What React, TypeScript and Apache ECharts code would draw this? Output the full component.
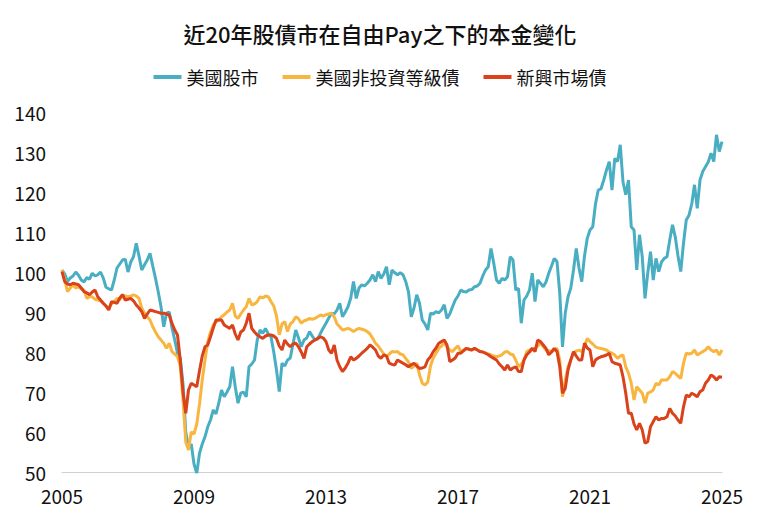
import React, { useEffect, useRef } from "react";
import * as echarts from "echarts";

const seriesNames = ["美國股市", "美國非投資等級債", "新興市場債"];
const startYear = 2005;
const monthCount = 241;
const months = Array.from({ length: monthCount }, (_, i) => `${startYear + Math.floor(i / 12)}-${String((i % 12) + 1).padStart(2, "0")}`);
const yearTicks = ["2005", "2009", "2013", "2017", "2021", "2025"];

const usStocks = [
  100.5, 99.5, 97.6, 98.5, 99.0, 100.0, 99.2, 98.0, 97.5, 98.6, 98.2, 99.7,
  99.0, 99.3, 100.0, 98.5, 96.2, 95.8, 95.5, 98.0, 101.0, 102.0, 103.0, 103.2,
  100.0, 102.5, 103.8, 107.2, 104.0, 100.5, 101.8, 103.0, 104.7, 101.5, 98.4, 95.0,
  91.3, 86.3, 89.7, 90.0, 86.0, 83.0, 79.7, 78.5, 72.0, 60.0, 56.0, 57.0,
  52.0, 49.7, 54.7, 57.0, 58.8, 61.3, 63.0, 65.5, 64.5, 67.2, 70.5, 68.8,
  70.0, 71.3, 76.3, 71.3, 67.2, 69.7, 70.0, 68.8, 76.3, 77.0, 78.0, 83.0,
  85.5, 84.7, 85.9, 84.5, 83.8, 80.0, 75.5, 70.1, 77.2, 76.5, 78.0, 78.5,
  82.0, 85.5, 83.5, 81.3, 83.0, 83.5, 85.1, 84.0, 83.0, 83.3, 84.7, 86.0,
  87.2, 88.5, 89.7, 89.5, 90.5, 92.2, 88.8, 90.0, 91.3, 93.5, 97.6, 93.4,
  96.0, 96.8, 96.5, 97.2, 98.0, 99.3, 97.6, 100.1, 98.4, 99.5, 101.3, 96.8,
  100.5, 99.8, 99.3, 99.8, 99.3, 97.6, 95.0, 88.8, 91.0, 94.3, 92.2, 88.0,
  87.0, 85.5, 89.7, 89.5, 90.1, 89.8, 90.5, 91.8, 88.4, 89.5, 91.3, 93.0,
  94.0, 95.5, 95.1, 95.0, 95.5, 95.6, 96.3, 96.5, 97.2, 99.0, 100.5, 101.3,
  105.9, 102.2, 98.0, 97.2, 98.4, 98.0, 98.8, 103.8, 103.0, 95.5, 95.9, 87.2,
  93.0, 94.0, 95.5, 99.7, 92.6, 98.0, 97.2, 96.3, 97.5, 99.7, 101.5, 103.4,
  102.6, 94.7, 81.3, 89.7, 93.8, 95.9, 100.5, 105.9, 101.0, 97.6, 104.0, 108.4,
  110.5, 111.3, 117.0, 120.5, 120.8, 123.0, 125.5, 127.6, 120.5, 128.4, 127.6, 131.8,
  122.5, 119.3, 123.0, 111.3, 110.5, 100.5, 109.3, 103.8, 93.4, 99.7, 105.1, 98.0,
  103.4, 100.1, 102.5, 103.4, 103.8, 108.0, 111.8, 108.8, 104.0, 100.1, 107.2, 113.0,
  114.2, 117.0, 121.8, 115.9, 123.0, 125.1, 126.3, 127.5, 129.7, 127.6, 134.3, 130.1,
  132.6,
];

const usHighYield = [
  100.5, 98.0, 95.1, 96.0, 96.8, 96.0, 96.3, 95.8, 95.5, 93.4, 93.8, 93.8,
  93.2, 93.0, 92.8, 92.2, 91.5, 90.9, 92.0, 92.6, 93.4, 93.0, 94.3, 94.0,
  93.8, 94.0, 94.3, 94.0, 93.4, 91.0, 89.7, 88.8, 88.0, 86.3, 85.0, 83.8,
  83.0, 82.2, 80.9, 82.2, 80.1, 79.5, 78.8, 76.5, 68.0, 57.5, 55.5, 60.0,
  59.5, 62.0, 67.0, 73.0, 78.0, 82.5, 85.0, 86.75, 87.5, 88.0, 88.8, 89.3,
  90.0, 90.5, 92.2, 89.0, 88.4, 89.5, 90.5, 91.3, 93.4, 91.8, 92.0, 92.6,
  93.8, 93.5, 94.0, 93.8, 92.6, 91.5, 89.0, 84.3, 87.0, 87.6, 85.1, 87.0,
  87.6, 88.8, 88.3, 87.2, 87.8, 88.0, 88.4, 88.2, 88.4, 88.8, 89.25, 89.0,
  89.3, 89.5, 89.7, 88.8, 87.0, 86.3, 85.5, 85.7, 85.9, 85.6, 85.1, 85.6,
  85.9, 85.7, 85.5, 85.1, 84.5, 83.4, 82.2, 81.5, 80.5, 79.5, 78.8, 79.5,
  80.1, 80.0, 80.1, 79.5, 79.3, 78.4, 77.5, 75.9, 76.5, 77.2, 74.3, 72.2,
  71.75, 72.5, 76.5, 78.5, 79.7, 80.9, 81.5, 82.2, 81.3, 80.5, 80.1, 80.9,
  81.5, 80.1, 80.5, 80.9, 80.7, 80.5, 80.9, 80.6, 80.1, 80.0, 79.7, 79.5,
  79.3, 79.0, 78.8, 79.0, 79.3, 80.0, 80.1, 79.5, 79.3, 78.0, 76.3, 77.0,
  78.0, 80.1, 80.5, 80.9, 80.9, 81.5, 82.2, 81.3, 80.5, 80.3, 80.1, 80.5,
  80.9, 78.0, 68.8, 73.0, 76.3, 78.0, 79.7, 80.2, 80.5, 80.1, 81.5, 83.4,
  82.6, 82.0, 81.3, 81.0, 80.9, 80.7, 80.5, 80.0, 79.7, 79.25, 78.4, 79.0,
  79.25, 76.3, 74.7, 72.2, 68.0, 71.3, 70.5, 69.7, 67.2, 69.7, 70.0, 70.5,
  72.2, 71.75, 73.0, 73.0, 73.0, 73.8, 75.1, 74.7, 74.0, 73.4, 77.2, 79.7,
  79.5, 79.7, 80.5, 79.25, 79.7, 80.1, 80.5, 81.3, 80.5, 80.1, 80.5, 79.25,
  80.5,
];

const emBonds = [
  100.1, 97.6, 97.0, 96.8, 97.2, 97.0, 96.8, 96.0, 95.1, 94.8, 94.3, 95.0,
  95.5, 93.8, 93.0, 92.2, 91.5, 90.5, 92.6, 92.4, 92.2, 93.5, 94.3, 93.0,
  93.2, 93.4, 92.8, 91.75, 91.0, 90.1, 88.4, 89.5, 90.5, 90.3, 90.1, 89.9,
  89.7, 89.7, 89.5, 89.25, 87.2, 85.5, 84.25, 78.0, 70.0, 64.7, 70.5, 72.2,
  71.75, 71.3, 75.3, 79.0, 81.3, 81.75, 83.8, 86.0, 88.0, 88.0, 88.0, 86.75,
  86.3, 85.9, 86.75, 84.5, 83.0, 85.0, 85.5, 87.2, 89.7, 85.9, 85.0, 84.25,
  83.8, 83.4, 84.0, 84.25, 84.25, 84.0, 83.4, 81.5, 80.5, 83.0, 82.0, 81.3,
  82.0, 82.2, 81.3, 80.0, 78.4, 81.3, 82.0, 82.6, 83.0, 83.4, 83.8, 83.5,
  82.6, 80.5, 79.7, 81.75, 78.0, 76.3, 75.1, 76.0, 77.2, 78.8, 78.0, 78.4,
  79.0, 79.7, 80.3, 80.9, 81.75, 81.2, 80.5, 79.0, 78.4, 79.3, 79.0, 77.2,
  76.9, 76.75, 78.0, 77.6, 77.2, 76.8, 76.3, 76.8, 77.2, 76.5, 75.9, 76.0,
  76.3, 78.0, 78.8, 80.1, 81.0, 82.2, 82.6, 83.0, 81.75, 77.6, 78.0, 78.5,
  79.7, 79.7, 80.3, 80.9, 80.7, 80.5, 80.9, 80.5, 80.1, 80.0, 79.7, 79.3,
  78.8, 78.4, 78.0, 77.0, 76.3, 75.5, 76.75, 75.5, 76.0, 76.3, 75.1, 75.1,
  78.0, 79.3, 80.0, 80.9, 80.1, 83.0, 82.6, 81.75, 80.9, 79.3, 80.0, 80.9,
  80.1, 76.3, 69.7, 70.9, 75.5, 78.0, 80.1, 79.0, 78.0, 78.0, 82.2, 81.0,
  80.5, 76.3, 78.0, 78.5, 78.8, 79.0, 79.25, 79.7, 77.6, 77.2, 77.0, 76.75,
  73.8, 69.7, 64.7, 64.7, 62.0, 60.5, 62.2, 60.5, 57.2, 57.6, 61.3, 62.6,
  63.8, 63.0, 63.4, 63.4, 63.8, 65.9, 64.7, 64.0, 63.0, 62.2, 66.3, 69.25,
  68.8, 69.7, 69.3, 68.8, 70.1, 70.5, 72.2, 73.0, 74.25, 73.8, 73.0, 73.8,
  73.7,
];

const colors = ["#4aaec3", "#f8b641", "#d9421b"];
const FONT = "'Noto Sans CJK TC', 'Noto Sans', sans-serif";

export default function App() {
  const ref = useRef<HTMLDivElement>(null);
  useEffect(() => {
    if (!ref.current) return;
    document.body.style.margin = "0";
    const chart = echarts.init(ref.current, null, { renderer: "svg" });
    const dataSets = [usStocks, usHighYield, emBonds];
    chart.setOption({
      animation: false,
      backgroundColor: "#ffffff",
      textStyle: { fontFamily: FONT },
      title: {
        text: "近20年股債市在自由Pay之下的本金變化",
        left: "center",
        top: 17,
        textStyle: { fontFamily: FONT, fontSize: 22, fontWeight: 500, color: "#111" },
      },
      legend: {
        top: 63,
        left: "center",
        icon: "rect",
        itemWidth: 28,
        itemHeight: 4,
        itemGap: 24,
        textStyle: { fontFamily: FONT, fontSize: 18, color: "#111" },
        data: seriesNames,
      },
      grid: { left: 62, right: 38, top: 112, bottom: 48, containLabel: false },
      xAxis: {
        type: "category",
        data: months,
        boundaryGap: false,
        axisLine: { show: true, lineStyle: { color: "#d0d0d0", width: 1 } },
        axisTick: { show: false },
        axisLabel: {
          interval: (i: number) => i % 48 === 0,
          formatter: (v: string) => {
            const y = v.slice(0, 4);
            return yearTicks.includes(y) ? y : "";
          },
          fontFamily: FONT,
          fontSize: 19,
          color: "#111",
          margin: 14,
        },
        splitLine: { show: false },
      },
      yAxis: {
        type: "value",
        min: 50,
        max: 140,
        interval: 10,
        axisLine: { show: false },
        axisTick: { show: false },
        splitLine: { show: false },
        axisLabel: { fontFamily: FONT, fontSize: 19, color: "#111", margin: 16 },
      },
      series: seriesNames.map((name, i) => ({
        name,
        type: "line",
        data: dataSets[i],
        showSymbol: false,
        symbol: "none",
        lineStyle: { width: 3, color: colors[i] },
        itemStyle: { color: colors[i] },
        z: 2 + i,
      })),
    });
    return () => chart.dispose();
  }, []);
  return <div ref={ref} style={{ width: 760, height: 520 }} />;
}
